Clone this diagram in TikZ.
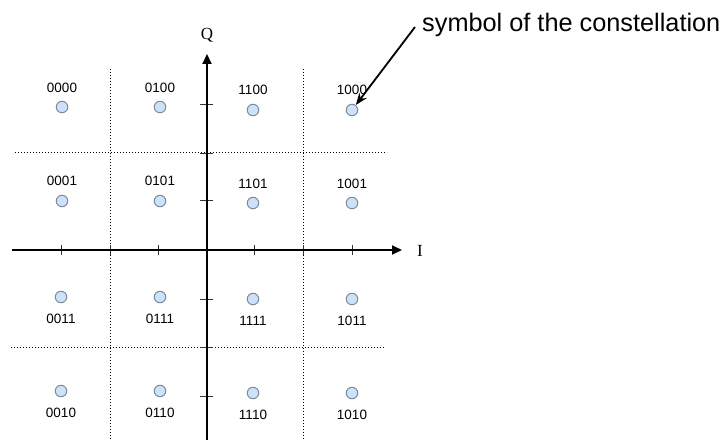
\documentclass[tikz,border=0pt]{standalone}
\usepackage{fontspec}
\setmainfont{Liberation Sans}
\newfontfamily\serifax{Liberation Serif}
\usetikzlibrary{arrows.meta}
\definecolor{ptfill}{RGB}{204,226,250}
\definecolor{ptdraw}{RGB}{128,138,150}
\begin{document}
\begin{tikzpicture}[x=1pt,y=-1pt,
  pt/.style={circle,draw=ptdraw,fill=ptfill,line width=1pt,minimum size=11.5pt,inner sep=0pt},
  lbl/.style={font=\fontsize{13.5}{15}\selectfont,inner sep=0pt},
  axis/.style={line width=2pt,-{Triangle[length=10pt,width=9pt]}},
  grid/.style={line width=1pt,dash pattern=on 1.2pt off 1.8pt},
  tick/.style={line width=0.9pt,black!80}]
\useasboundingbox (0,0) rectangle (723,441);
% dotted grid
\coordinate (v1t) at (110,69); \coordinate (v1b) at (110,441);
\coordinate (v2t) at (303,69); \coordinate (v2b) at (303,441);
\coordinate (h1l) at (15,153); \coordinate (h1r) at (387,153);
\coordinate (h2l) at (11,347); \coordinate (h2r) at (384,347);
\draw[grid] (v1t) -- (v1b);
\draw[grid] (v2t) -- (v2b);
\draw[grid] (h1l) -- (h1r);
\draw[grid] (h2l) -- (h2r);
% ticks
\foreach \x in {61,110,158,254,303,352} \draw[tick] (\x,245) -- (\x,255);
\foreach \y in {104,153,200,299,347,396} \draw[tick] (200,\y) -- (213,\y);
% axes
\coordinate (xa) at (12,250); \coordinate (xb) at (402,250);
\coordinate (ya) at (207,440); \coordinate (yb) at (207,54);
\draw[axis] (xa) -- (xb);
\draw[axis] (ya) -- (yb);
\node[font=\serifax\fontsize{17}{18}\selectfont] (Ilab) at (420,251) {I};
\node[font=\serifax\fontsize{17}{18}\selectfont] (Qlab) at (207,35) {Q};
% points
\node[pt] (c0000) at (62,107) {};
\node[pt] (c0100) at (160,107) {};
\node[pt] (c1100) at (253,110) {};
\node[pt] (c1000) at (352,110) {};
\node[pt] (c0001) at (62,201) {};
\node[pt] (c0101) at (160,201) {};
\node[pt] (c1101) at (253,203) {};
\node[pt] (c1001) at (352,203) {};
\node[pt] (c0011) at (61,297) {};
\node[pt] (c0111) at (160,297) {};
\node[pt] (c1111) at (253,299) {};
\node[pt] (c1011) at (352,299) {};
\node[pt] (c0010) at (61,391) {};
\node[pt] (c0110) at (160,391) {};
\node[pt] (c1110) at (253,393) {};
\node[pt] (c1010) at (352,393) {};
% labels
\node[lbl] (l0000) at (62,88) {0000};
\node[lbl] (l0100) at (160,88) {0100};
\node[lbl] (l1100) at (253,90) {1100};
\node[lbl] (l1000) at (352,90) {1000};
\node[lbl] (l0001) at (62,181) {0001};
\node[lbl] (l0101) at (160,181) {0101};
\node[lbl] (l1101) at (253,184) {1101};
\node[lbl] (l1001) at (352,184) {1001};
\node[lbl] (l0011) at (61,319) {0011};
\node[lbl] (l0111) at (160,319) {0111};
\node[lbl] (l1111) at (253,321) {1111};
\node[lbl] (l1011) at (352,321) {1011};
\node[lbl] (l0010) at (61,413) {0010};
\node[lbl] (l0110) at (160,413) {0110};
\node[lbl] (l1110) at (253,415) {1110};
\node[lbl] (l1010) at (352,415) {1010};
% annotation
\node[anchor=base west,inner sep=0pt,font=\fontsize{25.3}{27}\selectfont] (note) at (422,32) {symbol of the constellation};
\coordinate (ns) at (415,27);
\draw[line width=1.8pt,-{Stealth[length=12pt,width=9pt]}] (ns) -- (c1000);
\end{tikzpicture}
\end{document}
